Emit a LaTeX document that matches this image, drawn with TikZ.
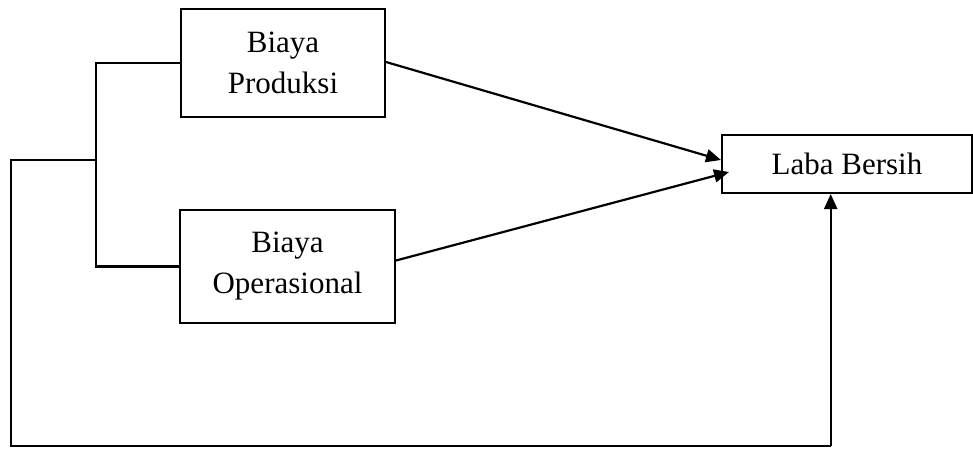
\documentclass[tikz,border=0pt]{standalone}
\usepackage{fontspec}
\setmainfont{Liberation Serif}
\usetikzlibrary{arrows.meta}
\begin{document}
\begin{tikzpicture}[x=1pt,y=1pt,
  box/.style={draw, line width=2pt, inner sep=0pt, align=center,
    font=\fontsize{31}{41}\selectfont},
  conn/.style={line width=2.2pt},
  arr/.style={line width=2.2pt, -{Triangle[length=15pt,width=13pt]}}]
\useasboundingbox (0,0) rectangle (973,448);
\node[box, minimum width=204, minimum height=108] (P) at (283,385) {Biaya\\Produksi};
\node[box, minimum width=215, minimum height=113] (O) at (287.5,181.5) {Biaya\\Operasional};
\node[box, minimum width=250, minimum height=58] (L) at (847,284) {Laba Bersih};
\coordinate (bt) at (95.7,385);
\coordinate (bb) at (95.7,181.5);
\coordinate (j) at (95.7,288);
\coordinate (ol) at (11.3,288);
\coordinate (obl) at (11.3,1.8);
\coordinate (obr) at (830.7,1.8);
\draw[conn] (P.west) -- (bt) -- (bb) -- (O.west);
\draw[conn] (j) -- (ol) -- (obl) -- (obr);
\draw[arr] (obr) -- (obr |- L.south);
\draw[arr] ([yshift=1pt]P.east) -- ([yshift=4pt]L.west);
\draw[arr] ([yshift=6pt]O.east) -- ([xshift=8pt,yshift=-8pt]L.west);
\end{tikzpicture}
\end{document}
